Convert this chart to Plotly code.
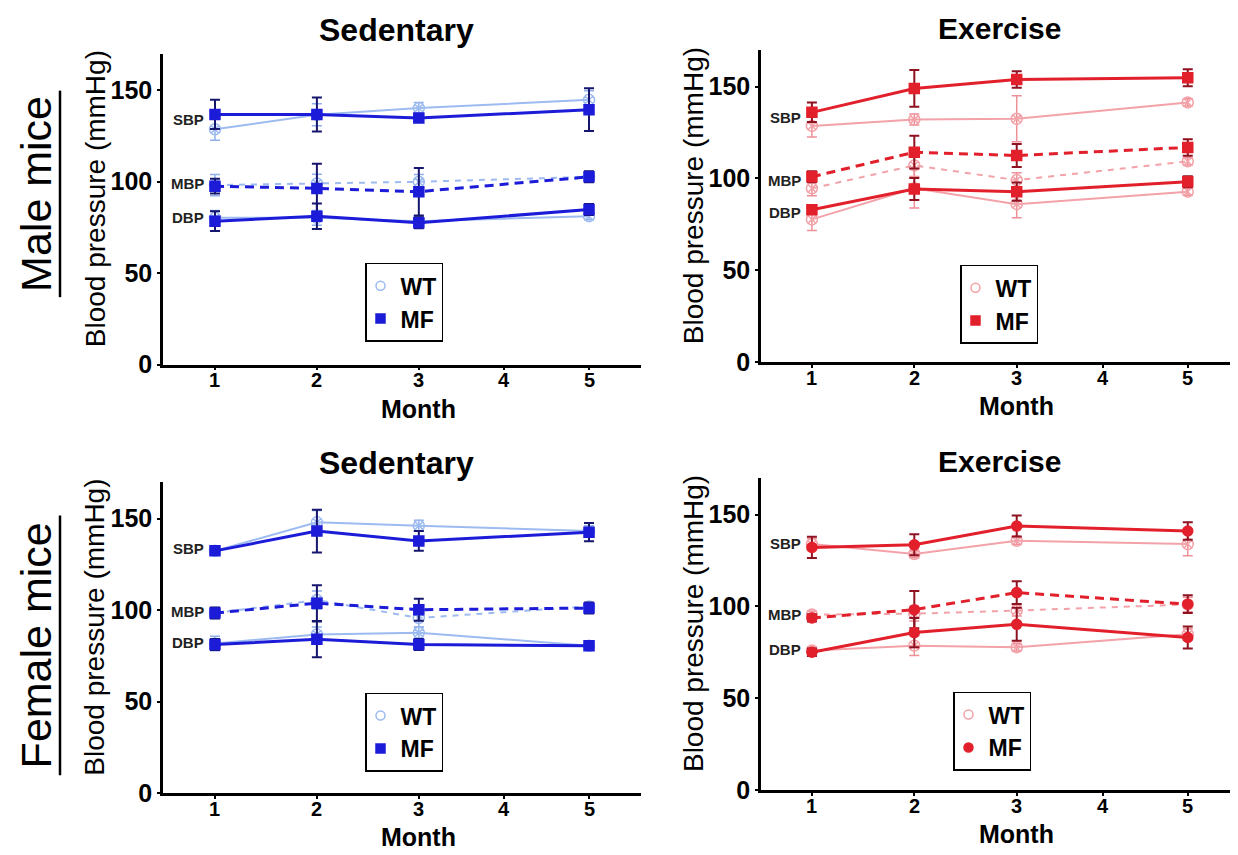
import plotly.graph_objects as go

# ---------------- data ----------------
month_labels = ["1", "2", "3", "4", "5"]
month_axis_pos = [1, 2, 3, 3.84, 4.67]      # axis position of each month tick (axis is non-uniform)
measured_months = [1, 2, 3, 5]

measures = ["SBP", "MBP", "DBP"]
groups = ["WT", "MF"]

# Male, sedentary
male_sed_wt_sbp = [128.6, 136.5, 140.2, 144.7]; male_sed_wt_sbp_err = [6, 6, 3, 5]
male_sed_mf_sbp = [136.7, 136.7, 134.8, 139.3]; male_sed_mf_sbp_err = [8, 9.3, 2, 11.7]
male_sed_wt_mbp = [98.1, 99.0, 99.9, 102.6];    male_sed_wt_mbp_err = [5.8, 5, 4, 3]
male_sed_mf_mbp = [97.5, 96.3, 94.5, 102.6];    male_sed_mf_mbp_err = [4, 13.5, 13, 3]
male_sed_wt_dbp = [80.2, 80.2, 78.4, 81.1];     male_sed_wt_dbp_err = [4, 4, 3, 2]
male_sed_mf_dbp = [78.4, 81.1, 77.5, 84.7];     male_sed_mf_dbp_err = [5.4, 7, 3, 3]

# Male, exercise
male_ex_wt_sbp = [128.6, 132.1, 132.5, 141.4];  male_ex_wt_sbp_err = [6, 3, 12.5, 2]
male_ex_mf_sbp = [136.0, 149.0, 153.9, 154.8];  male_ex_mf_sbp_err = [5.3, 10, 4.5, 4.6]
male_ex_wt_mbp = [94.6, 107.1, 99.1, 109.3];    male_ex_wt_mbp_err = [4, 6, 4, 2]
male_ex_mf_mbp = [100.9, 114.3, 112.5, 116.9];  male_ex_mf_mbp_err = [3, 8.9, 6.2, 4.5]
male_ex_wt_dbp = [77.7, 94.6, 86.0, 92.8];      male_ex_wt_dbp_err = [6, 10.7, 7.4, 2]
male_ex_mf_dbp = [83.0, 94.3, 92.8, 98.2];      male_ex_mf_dbp_err = [2, 6, 5, 3]

# Female, sedentary
fem_sed_wt_sbp = [132.4, 148.0, 146.2, 143.2];  fem_sed_wt_sbp_err = [2, 6.5, 3, 3]
fem_sed_mf_sbp = [132.4, 143.2, 137.8, 142.6];  fem_sed_mf_sbp_err = [2, 11.7, 5.4, 5]
fem_sed_wt_mbp = [98.4, 105.5, 95.7, 102.0];    fem_sed_wt_mbp_err = [3, 5, 5, 2]
fem_sed_mf_mbp = [98.4, 103.8, 100.2, 101.1];   fem_sed_mf_mbp_err = [3, 9.8, 6, 3]
fem_sed_wt_dbp = [81.7, 86.7, 87.6, 80.5];      fem_sed_wt_dbp_err = [4, 4, 3, 2]
fem_sed_mf_dbp = [81.2, 84.0, 81.2, 80.5];      fem_sed_mf_dbp_err = [3, 9.8, 3, 2]

# Female, exercise
fem_ex_wt_sbp = [133.9, 128.5, 135.7, 133.9];   fem_ex_wt_sbp_err = [3, 2, 2, 6.3]
fem_ex_mf_sbp = [132.1, 133.5, 143.7, 141.0];   fem_ex_mf_sbp_err = [5.8, 5.7, 5.7, 4.8]
fem_ex_wt_mbp = [95.5, 96.0, 97.7, 101.0];      fem_ex_wt_mbp_err = [2, 4, 3, 4]
fem_ex_mf_mbp = [93.7, 98.2, 107.5, 101.2];     fem_ex_mf_mbp_err = [2, 10.2, 6.2, 4.8]
fem_ex_wt_dbp = [75.9, 78.6, 77.7, 84.8];       fem_ex_wt_dbp_err = [2, 5.4, 2, 3]
fem_ex_mf_dbp = [75.0, 85.7, 90.2, 83.0];       fem_ex_mf_dbp_err = [2, 8, 9, 6]

panel_titles = ["Sedentary", "Exercise", "Sedentary", "Exercise"]
row_titles = ["Male mice", "Female mice"]
y_title = "Blood pressure (mmHg)"
x_title = "Month"

# ---------------- styling ----------------
W, H = 1238, 855
FONT = "Liberation Sans, Arial, Helvetica, sans-serif"

blue = dict(wt_line="#9dbbf0", wt_err="#8fb0ea", mf_line="#1c1cd8", mf_err="#16166e")
red = dict(wt_line="#f2a2a8", wt_err="#ee9098", mf_line="#e2202c", mf_err="#8e1220")

panels = [
    dict(data={("WT", "SBP"): (male_sed_wt_sbp, male_sed_wt_sbp_err), ("MF", "SBP"): (male_sed_mf_sbp, male_sed_mf_sbp_err),
               ("WT", "MBP"): (male_sed_wt_mbp, male_sed_wt_mbp_err), ("MF", "MBP"): (male_sed_mf_mbp, male_sed_mf_mbp_err),
               ("WT", "DBP"): (male_sed_wt_dbp, male_sed_wt_dbp_err), ("MF", "DBP"): (male_sed_mf_dbp, male_sed_mf_dbp_err)},
         col=blue, mf_symbol="square", px=(155, 633), py=(362.5, 46.3), leg=(357, 259),
         title_y=22, title_size=32, title_x=2.78),
    dict(data={("WT", "SBP"): (male_ex_wt_sbp, male_ex_wt_sbp_err), ("MF", "SBP"): (male_ex_mf_sbp, male_ex_mf_sbp_err),
               ("WT", "MBP"): (male_ex_wt_mbp, male_ex_wt_mbp_err), ("MF", "MBP"): (male_ex_mf_mbp, male_ex_mf_mbp_err),
               ("WT", "DBP"): (male_ex_wt_dbp, male_ex_wt_dbp_err), ("MF", "DBP"): (male_ex_mf_dbp, male_ex_mf_dbp_err)},
         col=red, mf_symbol="square", px=(753, 1233), py=(360, 42.6), leg=(952, 261),
         title_y=21, title_size=30, title_x=2.83),
    dict(data={("WT", "SBP"): (fem_sed_wt_sbp, fem_sed_wt_sbp_err), ("MF", "SBP"): (fem_sed_mf_sbp, fem_sed_mf_sbp_err),
               ("WT", "MBP"): (fem_sed_wt_mbp, fem_sed_wt_mbp_err), ("MF", "MBP"): (fem_sed_mf_mbp, fem_sed_mf_mbp_err),
               ("WT", "DBP"): (fem_sed_wt_dbp, fem_sed_wt_dbp_err), ("MF", "DBP"): (fem_sed_mf_dbp, fem_sed_mf_dbp_err)},
         col=blue, mf_symbol="square", px=(155, 633), py=(798, 482), leg=(357, 696),
         title_y=463, title_size=32, title_x=2.78),
    dict(data={("WT", "SBP"): (fem_ex_wt_sbp, fem_ex_wt_sbp_err), ("MF", "SBP"): (fem_ex_mf_sbp, fem_ex_mf_sbp_err),
               ("WT", "MBP"): (fem_ex_wt_mbp, fem_ex_wt_mbp_err), ("MF", "MBP"): (fem_ex_mf_mbp, fem_ex_mf_mbp_err),
               ("WT", "DBP"): (fem_ex_wt_dbp, fem_ex_wt_dbp_err), ("MF", "DBP"): (fem_ex_mf_dbp, fem_ex_mf_dbp_err)},
         col=red, mf_symbol="circle", px=(753, 1233), py=(795, 477.6), leg=(945, 695),
         title_y=461, title_size=30, title_x=2.83),
]

x_positions = [month_axis_pos[month_labels.index(str(m))] for m in measured_months]

fig = go.Figure()
layout = {}
annotations = []
shapes = []

for i, p in enumerate(panels):
    n = "" if i == 0 else str(i + 1)
    xa, ya = "x" + n, "y" + n
    col = p["col"]
    x0_px, x1_px = p["px"]
    yb, yt = p["py"]
    layout["xaxis" + n] = dict(
        domain=[x0_px / W, x1_px / W], range=[0.49, 5.18] if i % 2 == 0 else [0.503, 5.19],
        anchor=ya, tickvals=month_axis_pos, showticklabels=False,
        showline=True, linecolor="black", linewidth=2.5, ticks="outside", ticklen=3, tickwidth=2,
        tickcolor="black", showgrid=False, zeroline=False,
    )
    layout["yaxis" + n] = dict(
        domain=[1 - yb / H, 1 - yt / H], range=[0, 170], anchor=xa,
        tickvals=[0, 50, 100, 150], showline=True, linecolor="black", linewidth=2.5,
        ticks="outside", ticklen=3, tickwidth=2, tickcolor="black", showgrid=False, zeroline=False,
        tickfont=dict(family=FONT, size=25, color="black", weight="bold"),
    )
    # x tick labels (placed at the axis positions of each month)
    for pos, lab in zip(month_axis_pos, month_labels):
        annotations.append(dict(
            x=pos, y=1 - (yb + 16) / H, xref=xa, yref="paper", text=lab, showarrow=False,
            xanchor="center", yanchor="middle",
            font=dict(family=FONT, size=20, color="black", weight="bold"),
        ))

    for g in groups:
        for m in measures:
            vals, errs = p["data"][(g, m)]
            is_mf = g == "MF"
            line_color = col["mf_line"] if is_mf else col["wt_line"]
            err_color = col["mf_err"] if is_mf else col["wt_err"]
            dash = "solid"
            if m == "MBP":
                dash = "9px,6px" if is_mf else "6px,6px"
            fig.add_trace(go.Scatter(
                x=x_positions, y=vals, mode="lines+markers", xaxis=xa, yaxis=ya,
                showlegend=False, name=f"{g} {m}",
                line=dict(color=line_color, width=3 if is_mf else 2, dash=dash),
                marker=dict(symbol=p["mf_symbol"] if is_mf else "circle-x-open",
                            size=10 if is_mf else 11, color=line_color,
                            line=dict(color=line_color, width=1.5)),
                error_y=dict(type="data", array=errs, visible=True, color=err_color,
                             thickness=2 if is_mf else 1.5, width=5),
            ))

    # legend-only entries (marker only, as in the reference)
    leg_name = "legend" if i == 0 else "legend" + str(i + 1)
    for g in groups:
        is_mf = g == "MF"
        c = col["mf_line"] if is_mf else col["wt_line"]
        fig.add_trace(go.Scatter(
            x=[None], y=[None], mode="markers", xaxis=xa, yaxis=ya, name=g, legend=leg_name,
            marker=dict(symbol=p["mf_symbol"] if is_mf else "circle-open", size=9, color=c,
                        line=dict(color=c, width=1.5)),
        ))
    lx, ly = p["leg"]
    layout[leg_name] = dict(
        x=lx / W, y=1 - ly / H, xanchor="left", yanchor="top", xref="paper", yref="paper",
        bordercolor="black", borderwidth=1.5, bgcolor="white",
        font=dict(family=FONT, size=23, color="black", weight="bold"),
        itemwidth=30, tracegroupgap=0, indentation=-6,
    )

    # SBP / MBP / DBP labels left of month 1
    for m in measures:
        v_wt = p["data"][("WT", m)][0][0]
        v_mf = p["data"][("MF", m)][0][0]
        annotations.append(dict(
            x=month_axis_pos[0], y=(v_wt + v_mf) / 2, xref=xa, yref=ya, text=m, showarrow=False,
            xanchor="right", yanchor="middle", xshift=-9, yshift=2,
            font=dict(family=FONT, size=15, color="#222222", weight="bold"),
        ))

    # panel title
    annotations.append(dict(
        x=p["title_x"], y=1 - p["title_y"] / H, xref=xa, yref="paper", text=panel_titles[i],
        showarrow=False, xanchor="center", yanchor="middle",
        font=dict(family=FONT, size=p["title_size"], color="black", weight="bold"),
    ))
    # x title
    annotations.append(dict(
        x=month_axis_pos[2], y=1 - (yb + 45) / H, xref=xa, yref="paper", text=x_title,
        showarrow=False, xanchor="center", yanchor="middle",
        font=dict(family=FONT, size=25, color="black", weight="bold"),
    ))
    # y title
    annotations.append(dict(
        x=(x0_px - 68) / W, y=1 - ((yb + yt) / 2 - 10) / H, xref="paper", yref="paper", text=y_title,
        showarrow=False, xanchor="center", yanchor="middle", textangle=-90,
        font=dict(family=FONT, size=28, color="black"),
    ))

# row titles with underline
row_centers = [189, 648]
for r, t in enumerate(row_titles):
    cy = row_centers[r]
    annotations.append(dict(
        x=28 / W, y=1 - cy / H, xref="paper", yref="paper", text=t, showarrow=False,
        xanchor="center", yanchor="middle", textangle=-90,
        font=dict(family=FONT, size=43, color="black"),
    ))
    half = 105 if r == 0 else 132
    shapes.append(dict(type="line", xref="paper", yref="paper",
                       x0=52 / W, x1=52 / W, y0=1 - (cy - half) / H, y1=1 - (cy + half) / H,
                       line=dict(color="black", width=2.5)))

fig.update_layout(
    width=W, height=H, margin=dict(l=0, r=0, t=0, b=0),
    paper_bgcolor="white", plot_bgcolor="white",
    annotations=annotations, shapes=shapes, **layout,
)

fig.write_html("out.html")
